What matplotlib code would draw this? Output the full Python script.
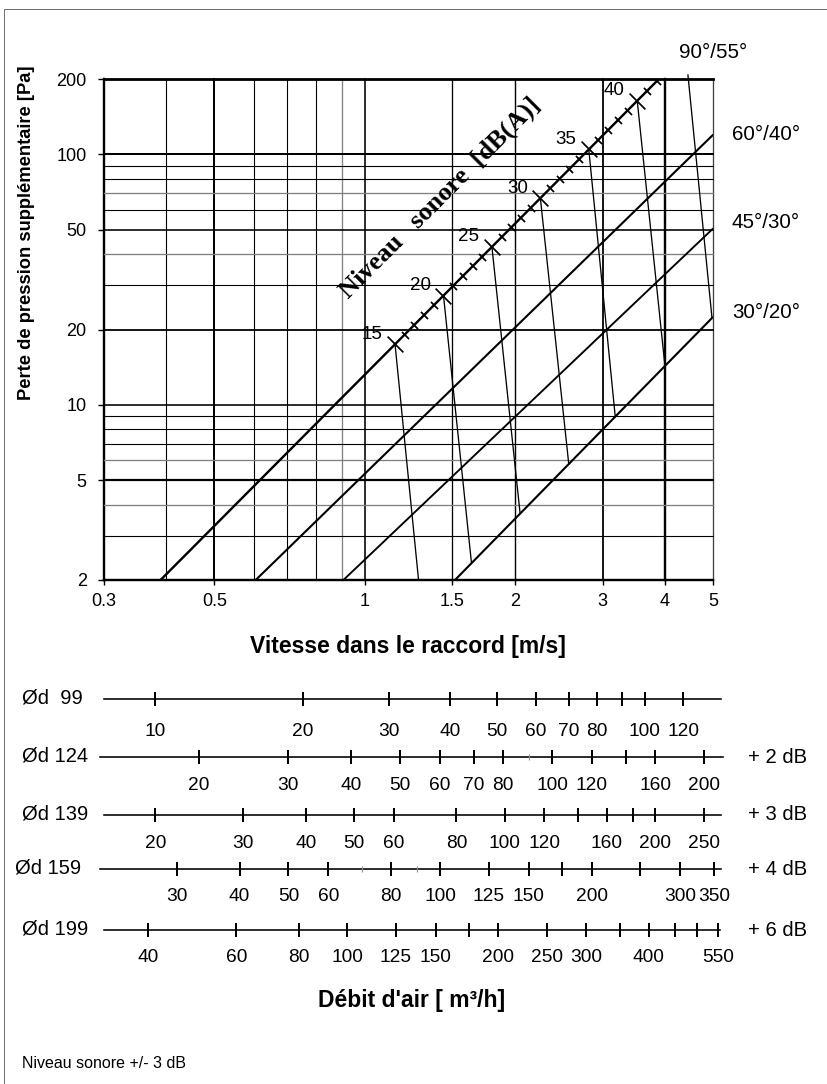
import numpy as np
import matplotlib
matplotlib.use("Agg")
import matplotlib.pyplot as plt
from matplotlib.patches import Rectangle
from matplotlib.transforms import blended_transform_factory

plt.rcParams['font.family'] = ['Liberation Sans', 'DejaVu Sans']

W, H, DPI = 827, 1084, 100
PT = 72 / DPI          # points per pixel


def fx(px):
    return px / W


def fy(py):
    return 1 - py / H


# ---------------- pressure loss chart ----------------
vel_ticks = [0.3, 0.5, 1, 1.5, 2, 3, 4, 5]
vel_tick_labels = ['0.3', '0.5', '1', '1.5', '2', '3', '4', '5']
dp_ticks = [2, 5, 10, 20, 50, 100, 200]
dp_tick_labels = ['2', '5', '10', '20', '50', '100', '200']

# grid lines: value, width (px), colour
vel_grid = [0.3, 0.4, 0.5, 0.6, 0.7, 0.8, 0.9, 1, 1.5, 2, 3, 4, 5]
vel_grid_w = [2.4, 1.1, 2.0, 1.1, 1.1, 1.1, 1.3, 1.6, 1.3, 1.4, 1.8, 2.4, 1.3]
vel_grid_c = ['k', 'k', 'k', 'k', 'k', 'k', '#808080', 'k', 'k', 'k', 'k', 'k', '#404040']
dp_grid = [2, 3, 4, 5, 6, 7, 8, 9, 10, 20, 30, 40, 50, 60, 70, 80, 90, 100, 200]
dp_grid_w = [2.4, 1.1, 1.3, 2.2, 1.3, 1.1, 1.1, 1.1, 1.6, 1.8, 1.1, 1.3, 1.6,
             1.1, 1.3, 1.1, 1.1, 2.0, 2.8]
dp_grid_c = ['k', 'k', '#808080', 'k', '#808080', 'k', 'k', 'k', 'k', 'k', 'k',
             '#808080', 'k', 'k', '#808080', 'k', 'k', 'k', 'k']

# fitting curves: start / end (velocity m/s, pressure Pa)
angle_labels = ['90°/55°', '60°/40°', '45°/30°', '30°/20°']
curve_v0 = [0.39, 0.605, 0.907, 1.518]
curve_p0 = [2.0, 2.0, 2.0, 2.0]
curve_v1 = [3.89, 5.0, 5.0, 5.0]
curve_p1 = [200.0, 120.0, 50.7, 22.5]
curve_w = [2.4, 2.1, 1.9, 2.1]

# sound level scale carried by the 90°/55° curve
db_ref_level, db_ref_vel, db_per_decade = 15, 1.151, 51.5
db_major = [15, 20, 25, 30, 35, 40, 45]
db_label = ['15', '20', '25', '30', '35', '40', '']
db_minor = [16, 17, 18, 19, 21, 22, 23, 24, 26, 27, 28, 29,
            31, 32, 33, 34, 36, 37, 38, 39, 41, 42]
# velocity where each constant-level line meets the 30°/20° curve
db_end_vel = [1.303, 1.638, 2.05, 2.566, 3.18, 4.0, 4.97]
top_overshoot = 207.5   # the last level line starts just above the frame


def curve_p(i, v):
    n = np.log(curve_p1[i] / curve_p0[i]) / np.log(curve_v1[i] / curve_v0[i])
    return curve_p0[i] * (np.asarray(v) / curve_v0[i]) ** n


def db_vel(level):
    return db_ref_vel * 10 ** ((np.asarray(level) - db_ref_level) / db_per_decade)


fig = plt.figure(figsize=(W / DPI, H / DPI), dpi=DPI)

# outer frame
fig.patches.append(Rectangle((fx(4), fy(1090)), fx(830) - fx(4), fy(9) - fy(1090),
                             transform=fig.transFigure, fill=False,
                             edgecolor='#707070', lw=1.0 * PT))

x0, x1, y0, y1 = 103.7, 713.3, 79.0, 580.0
ax = fig.add_axes([fx(x0), fy(y1), (x1 - x0) / W, (y1 - y0) / H])
ax.set_xscale('log')
ax.set_yscale('log')
ax.set_xlim(0.3, 5)
ax.set_ylim(2, 200)
for s in ax.spines.values():
    s.set_visible(False)
ax.patch.set_visible(False)

for v, w, c in zip(vel_grid, vel_grid_w, vel_grid_c):
    ax.axvline(v, color=c, lw=w * PT, zorder=1, clip_on=False)
for p, w, c in zip(dp_grid, dp_grid_w, dp_grid_c):
    ax.axhline(p, color=c, lw=w * PT, zorder=1, clip_on=False)

ax.set_xticks(vel_ticks)
ax.set_xticklabels(vel_tick_labels)
ax.set_yticks(dp_ticks)
ax.set_yticklabels(dp_tick_labels)
ax.minorticks_off()
ax.tick_params(axis='x', length=5 * PT, width=1.4 * PT, pad=8 * PT,
               labelsize=13, direction='out')
ax.tick_params(axis='y', length=6 * PT, width=1.4 * PT, pad=11 * PT,
               labelsize=13, direction='out')

for i in range(4):
    ax.plot([curve_v0[i], curve_v1[i]], [curve_p0[i], curve_p1[i]],
            color='k', lw=curve_w[i] * PT, zorder=3, solid_capstyle='butt')

# constant sound level lines
for lev, ve in zip(db_major, db_end_vel):
    vm = float(db_vel(lev))
    pm = float(curve_p(0, vm))
    pe = float(curve_p(3, ve))
    if pm > 200:
        # start where the line enters the chart, a hair above the frame
        t = np.log(pm / top_overshoot) / np.log(pm / pe)
        vm = vm * (ve / vm) ** t
        pm = top_overshoot
        ax.plot([vm, ve], [pm, pe], color='k', lw=1.3 * PT, zorder=3, clip_on=False)
    else:
        ax.plot([vm, ve], [pm, pe], color='k', lw=1.3 * PT, zorder=3)

# scale ticks along the 90°/55° curve
vmin = db_vel(db_minor)
ax.plot(vmin, curve_p(0, vmin), ls='none', marker=(2, 2, 45), ms=10 * PT,
        mew=1.2 * PT, color='k', zorder=4)
vmaj = db_vel(db_major[:-1])
ax.plot(vmaj, curve_p(0, vmaj), ls='none', marker=(2, 2, 45), ms=22 * PT,
        mew=1.2 * PT, color='k', zorder=4)
for lev, lab in zip(db_major, db_label):
    if not lab:
        continue
    vm = float(db_vel(lev))
    ax.annotate(lab, (vm, float(curve_p(0, vm))), xytext=(-23 * PT, 10 * PT),
                textcoords='offset points', ha='center', va='center',
                fontsize=13.5)

fig.text(fx(440), fy(198), 'Niveau   sonore  [dB(A)]', rotation=45,
         rotation_mode='anchor', ha='center', va='center',
         family=['Liberation Serif'], fontweight='bold', fontsize=19)

# curve labels
fig.text(fx(713), fy(52), angle_labels[0], ha='center', va='center', fontsize=14.8)
fig.text(fx(732), fy(134), angle_labels[1], ha='left', va='center', fontsize=14.8)
fig.text(fx(732), fy(223), angle_labels[2], ha='left', va='center', fontsize=14.8)
fig.text(fx(732), fy(312), angle_labels[3], ha='left', va='center', fontsize=14.8)

fig.text(fx(27), fy(233), 'Perte de pression supplémentaire [Pa]', rotation=90,
         ha='center', va='center', fontweight='bold', fontsize=13.2)
fig.text(fx(408), fy(646), 'Vitesse dans le raccord [m/s]', ha='center',
         va='center', fontweight='bold', fontsize=16.5)

# ---------------- air flow scales ----------------
row_names = ['Ød  99', 'Ød 124', 'Ød 139', 'Ød 159', 'Ød 199']
row_extra = ['', '+ 2 dB', '+ 3 dB', '+ 4 dB', '+ 6 dB']

flow_ticks_99 = [10, 20, 30, 40, 50, 60, 70, 80, 90, 100, 120]
flow_labels_99 = [10, 20, 30, 40, 50, 60, 70, 80, 100, 120]
flow_faint_99 = []
flow_ticks_124 = [20, 30, 40, 50, 60, 70, 80, 100, 120, 140, 160, 200]
flow_labels_124 = [20, 30, 40, 50, 60, 70, 80, 100, 120, 160, 200]
flow_faint_124 = [90]
flow_ticks_139 = [20, 30, 40, 50, 60, 80, 100, 120, 140, 160, 180, 200, 250]
flow_labels_139 = [20, 30, 40, 50, 60, 80, 100, 120, 160, 200, 250]
flow_faint_139 = []
flow_ticks_159 = [30, 40, 50, 60, 80, 100, 125, 150, 175, 200, 250, 300, 350]
flow_labels_159 = [30, 40, 50, 60, 80, 100, 125, 150, 200, 300, 350]
flow_faint_159 = [70, 90]
flow_ticks_199 = [40, 60, 80, 100, 125, 150, 175, 200, 250, 300, 350, 400, 450, 500, 550]
flow_labels_199 = [40, 60, 80, 100, 125, 150, 200, 250, 300, 400, 550]
flow_faint_199 = []

row_ticks = [flow_ticks_99, flow_ticks_124, flow_ticks_139, flow_ticks_159, flow_ticks_199]
row_labels = [flow_labels_99, flow_labels_124, flow_labels_139, flow_labels_159, flow_labels_199]
row_faint = [flow_faint_99, flow_faint_124, flow_faint_139, flow_faint_159, flow_faint_199]

# layout of each scale: baseline y, flow at the chart's left / right edge,
# line extent (px), label drop (px), name x
row_y = [699.3, 757.3, 815.0, 869.3, 930.0]
row_lim = [(7.844, 138.2), (12.95, 208.7), (15.78, 261.0), (21.49, 348.9), (32.6, 537.8)]
row_line = [(104, 721), (100, 723), (104, 721), (100, 721), (104, 720)]
row_drop = [32, 28, 28, 27.5, 27]
row_name_x = [22, 22, 22, 15, 22]

for k in range(5):
    ry = row_y[k]
    rax = fig.add_axes([fx(x0), fy(ry + 12), (x1 - x0) / W, 24 / H])
    rax.set_xscale('log')
    rax.set_xlim(*row_lim[k])
    rax.set_ylim(-12, 12)
    rax.axis('off')
    la, lb = row_line[k]
    rax.plot([(la - x0) / (x1 - x0), (lb - x0) / (x1 - x0)], [0, 0],
             transform=blended_transform_factory(rax.transAxes, rax.transData),
             color='k', lw=1.6 * PT, clip_on=False)
    rax.vlines(row_ticks[k], -7, 7, color='k', lw=2.0 * PT, clip_on=False)
    if row_faint[k]:
        rax.vlines(row_faint[k], -3, 3, color='#909090', lw=1.2 * PT, clip_on=False)
    for q in row_labels[k]:
        rax.text(q, -row_drop[k], str(q), ha='center', va='center', fontsize=13.8,
                 clip_on=False)
    fig.text(fx(row_name_x[k]), fy(ry - 1), row_names[k], ha='left', va='center',
             fontsize=14.5)
    if row_extra[k]:
        fig.text(fx(748), fy(ry), row_extra[k], ha='left', va='center', fontsize=14.6)

fig.text(fx(412), fy(1000), 'Débit d\'air [ m³/h]', ha='center', va='center',
         fontweight='bold', fontsize=16.5)
fig.text(fx(22), fy(1063), 'Niveau sonore +/- 3 dB', ha='left', va='center',
         fontsize=11.5)

fig.savefig('out.png', dpi=DPI)
